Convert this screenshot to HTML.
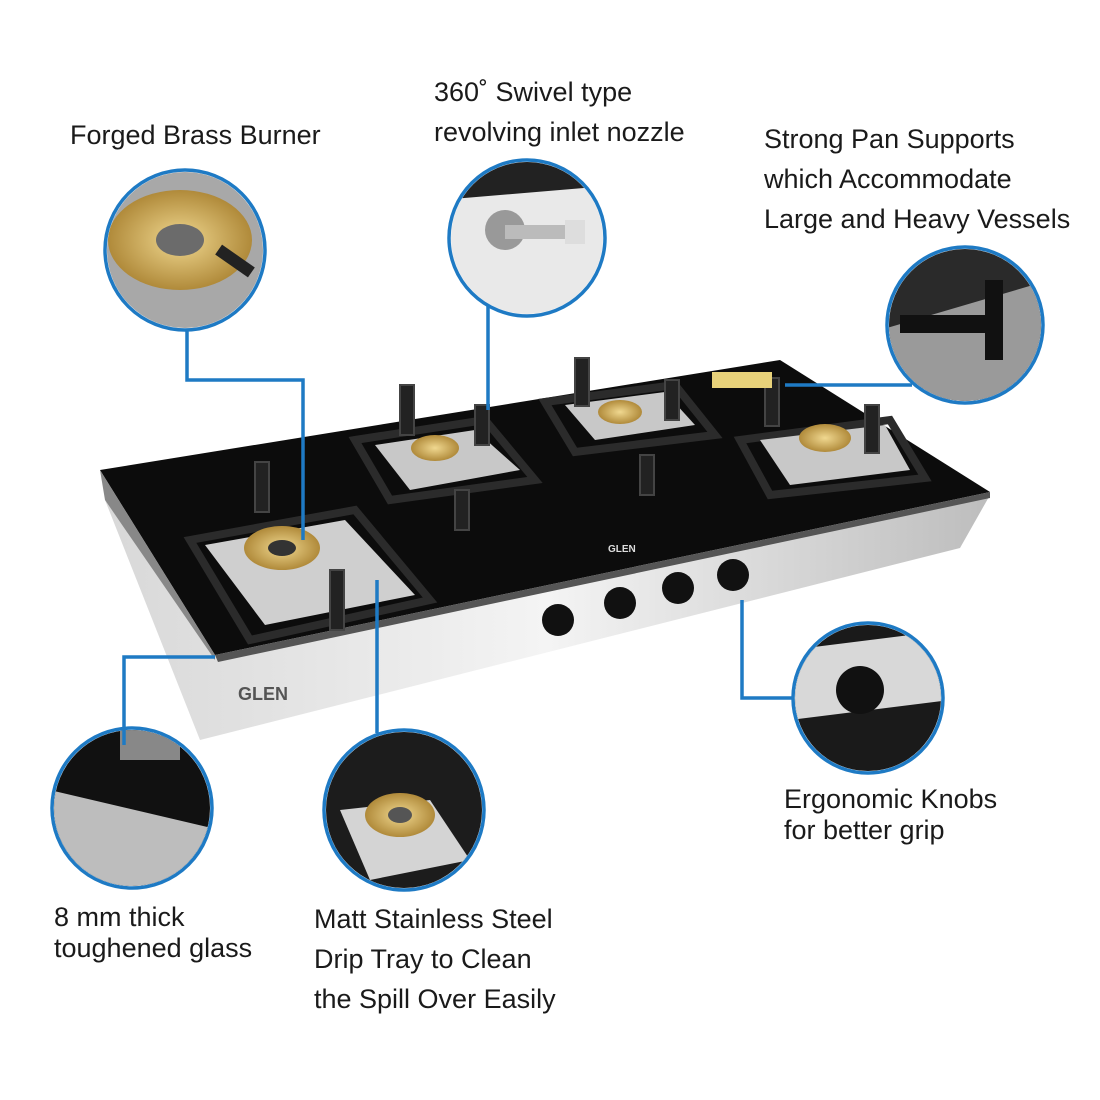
<!DOCTYPE html>
<html><head><meta charset="utf-8"><style>
html,body{margin:0;padding:0;background:#fff;}
body{width:1100px;height:1100px;position:relative;overflow:hidden;font-family:"Liberation Sans",sans-serif;color:#1a1a1a;}
.t{position:absolute;font-size:27px;line-height:40px;white-space:nowrap;}
svg{position:absolute;left:0;top:0;}
</style></head><body>
<svg width="1100" height="1100" viewBox="0 0 1100 1100">
<defs>
<linearGradient id="steel" x1="0" y1="0" x2="1" y2="0">
<stop offset="0" stop-color="#d8d8d8"/><stop offset=".5" stop-color="#f4f4f4"/><stop offset="1" stop-color="#bdbdbd"/></linearGradient>
<radialGradient id="brass"><stop offset="0" stop-color="#f0d890"/><stop offset="1" stop-color="#b08a3a"/></radialGradient>
<clipPath id="c1"><circle cx="185" cy="250" r="78"/></clipPath>
<clipPath id="c2"><circle cx="527" cy="238" r="76"/></clipPath>
<clipPath id="c3"><circle cx="965" cy="325" r="76"/></clipPath>
<clipPath id="c4"><circle cx="868" cy="698" r="73"/></clipPath>
<clipPath id="c5"><circle cx="404" cy="810" r="78"/></clipPath>
<clipPath id="c6"><circle cx="132" cy="808" r="78"/></clipPath>
</defs>
<polygon points="105,500 200,740 960,548 990,495 215,655" fill="url(#steel)"/>
<polygon points="100,470 780,360 990,492 215,655" fill="#0c0c0c"/>
<polygon points="100,470 105,500 215,660 215,655" fill="#888"/>
<polygon points="215,655 990,492 990,498 218,662" fill="#555"/>
<text x="238" y="700" font-size="18" font-weight="bold" fill="#555" font-family="Liberation Sans">GLEN</text>
<text x="608" y="552" font-size="10" font-weight="bold" fill="#ddd" font-family="Liberation Sans">GLEN</text>
<g fill="none" stroke="#2b2b2b" stroke-width="8">
<polygon points="190,540 355,510 430,600 250,640"/>
<polygon points="355,440 485,420 535,480 390,500"/>
<polygon points="545,402 675,385 715,435 575,452"/>
<polygon points="740,440 890,420 925,478 770,495"/>
</g>
<g>
<polygon points="205,545 345,520 415,595 265,625" fill="#cfcfcf"/>
<ellipse cx="282" cy="548" rx="38" ry="22" fill="url(#brass)"/><ellipse cx="282" cy="548" rx="14" ry="8" fill="#333"/>
<polygon points="375,445 475,430 520,470 410,490" fill="#c8c8c8"/>
<ellipse cx="435" cy="448" rx="24" ry="13" fill="url(#brass)"/>
<polygon points="565,405 665,392 695,425 595,440" fill="#c8c8c8"/>
<ellipse cx="620" cy="412" rx="22" ry="12" fill="url(#brass)"/>
<polygon points="760,440 885,425 910,470 790,485" fill="#c8c8c8"/>
<ellipse cx="825" cy="438" rx="26" ry="14" fill="url(#brass)"/>
</g>
<g fill="#222" stroke="#444" stroke-width="2">
<rect x="255" y="462" width="14" height="50"/><rect x="400" y="385" width="14" height="50"/><rect x="575" y="358" width="14" height="48"/><rect x="765" y="378" width="14" height="48"/><rect x="865" y="405" width="14" height="48"/><rect x="330" y="570" width="14" height="60"/>
<rect x="455" y="490" width="14" height="40"/><rect x="640" y="455" width="14" height="40"/><rect x="665" y="380" width="14" height="40"/><rect x="475" y="405" width="14" height="40"/>
</g>
<g fill="#111"><circle cx="558" cy="620" r="16"/><circle cx="620" cy="603" r="16"/><circle cx="678" cy="588" r="16"/><circle cx="733" cy="575" r="16"/></g>
<rect x="712" y="372" width="60" height="16" fill="#e8d27a"/>
<g clip-path="url(#c1)"><rect x="100" y="165" width="170" height="170" fill="#a8a8a8"/><ellipse cx="180" cy="240" rx="72" ry="50" fill="url(#brass)"/><ellipse cx="180" cy="240" rx="24" ry="16" fill="#6b6b6b"/><rect x="215" y="255" width="40" height="12" fill="#222" transform="rotate(35 235 261)"/></g>
<g clip-path="url(#c2)"><rect x="440" y="150" width="180" height="180" fill="#e9e9e9"/><polygon points="440,150 620,150 620,185 440,200" fill="#222"/><circle cx="505" cy="230" r="20" fill="#999"/><rect x="505" y="225" width="60" height="14" fill="#bbb"/><rect x="565" y="220" width="20" height="24" fill="#ddd"/></g>
<g clip-path="url(#c3)"><rect x="880" y="240" width="170" height="170" fill="#2a2a2a"/><polygon points="880,330 1050,280 1050,410 880,410" fill="#9a9a9a"/><rect x="900" y="315" width="90" height="18" fill="#111"/><rect x="985" y="280" width="18" height="80" fill="#111"/></g>
<g clip-path="url(#c4)"><rect x="790" y="620" width="160" height="160" fill="#1a1a1a"/><polygon points="790,650 950,630 950,700 790,720" fill="#d8d8d8"/><circle cx="860" cy="690" r="24" fill="#111"/></g>
<g clip-path="url(#c5)"><rect x="320" y="725" width="170" height="170" fill="#1c1c1c"/><polygon points="340,810 430,800 470,860 370,880" fill="#d4d4d4"/><ellipse cx="400" cy="815" rx="35" ry="22" fill="url(#brass)"/><ellipse cx="400" cy="815" rx="12" ry="8" fill="#555"/></g>
<g clip-path="url(#c6)"><rect x="50" y="725" width="170" height="170" fill="#111"/><polygon points="50,790 220,830 220,895 50,895" fill="#bdbdbd"/><rect x="120" y="730" width="60" height="30" fill="#888"/></g>
<g fill="none" stroke="#1e7ac4" stroke-width="3.5">
<circle cx="185" cy="250" r="80"/><circle cx="527" cy="238" r="78"/><circle cx="965" cy="325" r="78"/><circle cx="868" cy="698" r="75"/><circle cx="404" cy="810" r="80"/><circle cx="132" cy="808" r="80"/>
<polyline points="187,330 187,380 303,380 303,540"/>
<polyline points="488,305 488,410"/>
<polyline points="785,385 912,385"/>
<polyline points="742,600 742,698 793,698"/>
<polyline points="377,580 377,733"/>
<polyline points="215,657 124,657 124,745"/>
</g>
</svg>
<div class="t" style="left:70px;top:115px">Forged Brass Burner</div>
<div class="t" style="left:434px;top:72px">360&#730; Swivel type<br>revolving inlet nozzle</div>
<div class="t" style="left:764px;top:119px">Strong Pan Supports<br>which Accommodate<br>Large and Heavy Vessels</div>
<div class="t" style="left:784px;top:784px;line-height:31px">Ergonomic Knobs<br>for better grip</div>
<div class="t" style="left:54px;top:902px;line-height:31px">8 mm thick<br>toughened glass</div>
<div class="t" style="left:314px;top:899px">Matt Stainless Steel<br>Drip Tray to Clean<br>the Spill Over Easily</div>
</body></html>
